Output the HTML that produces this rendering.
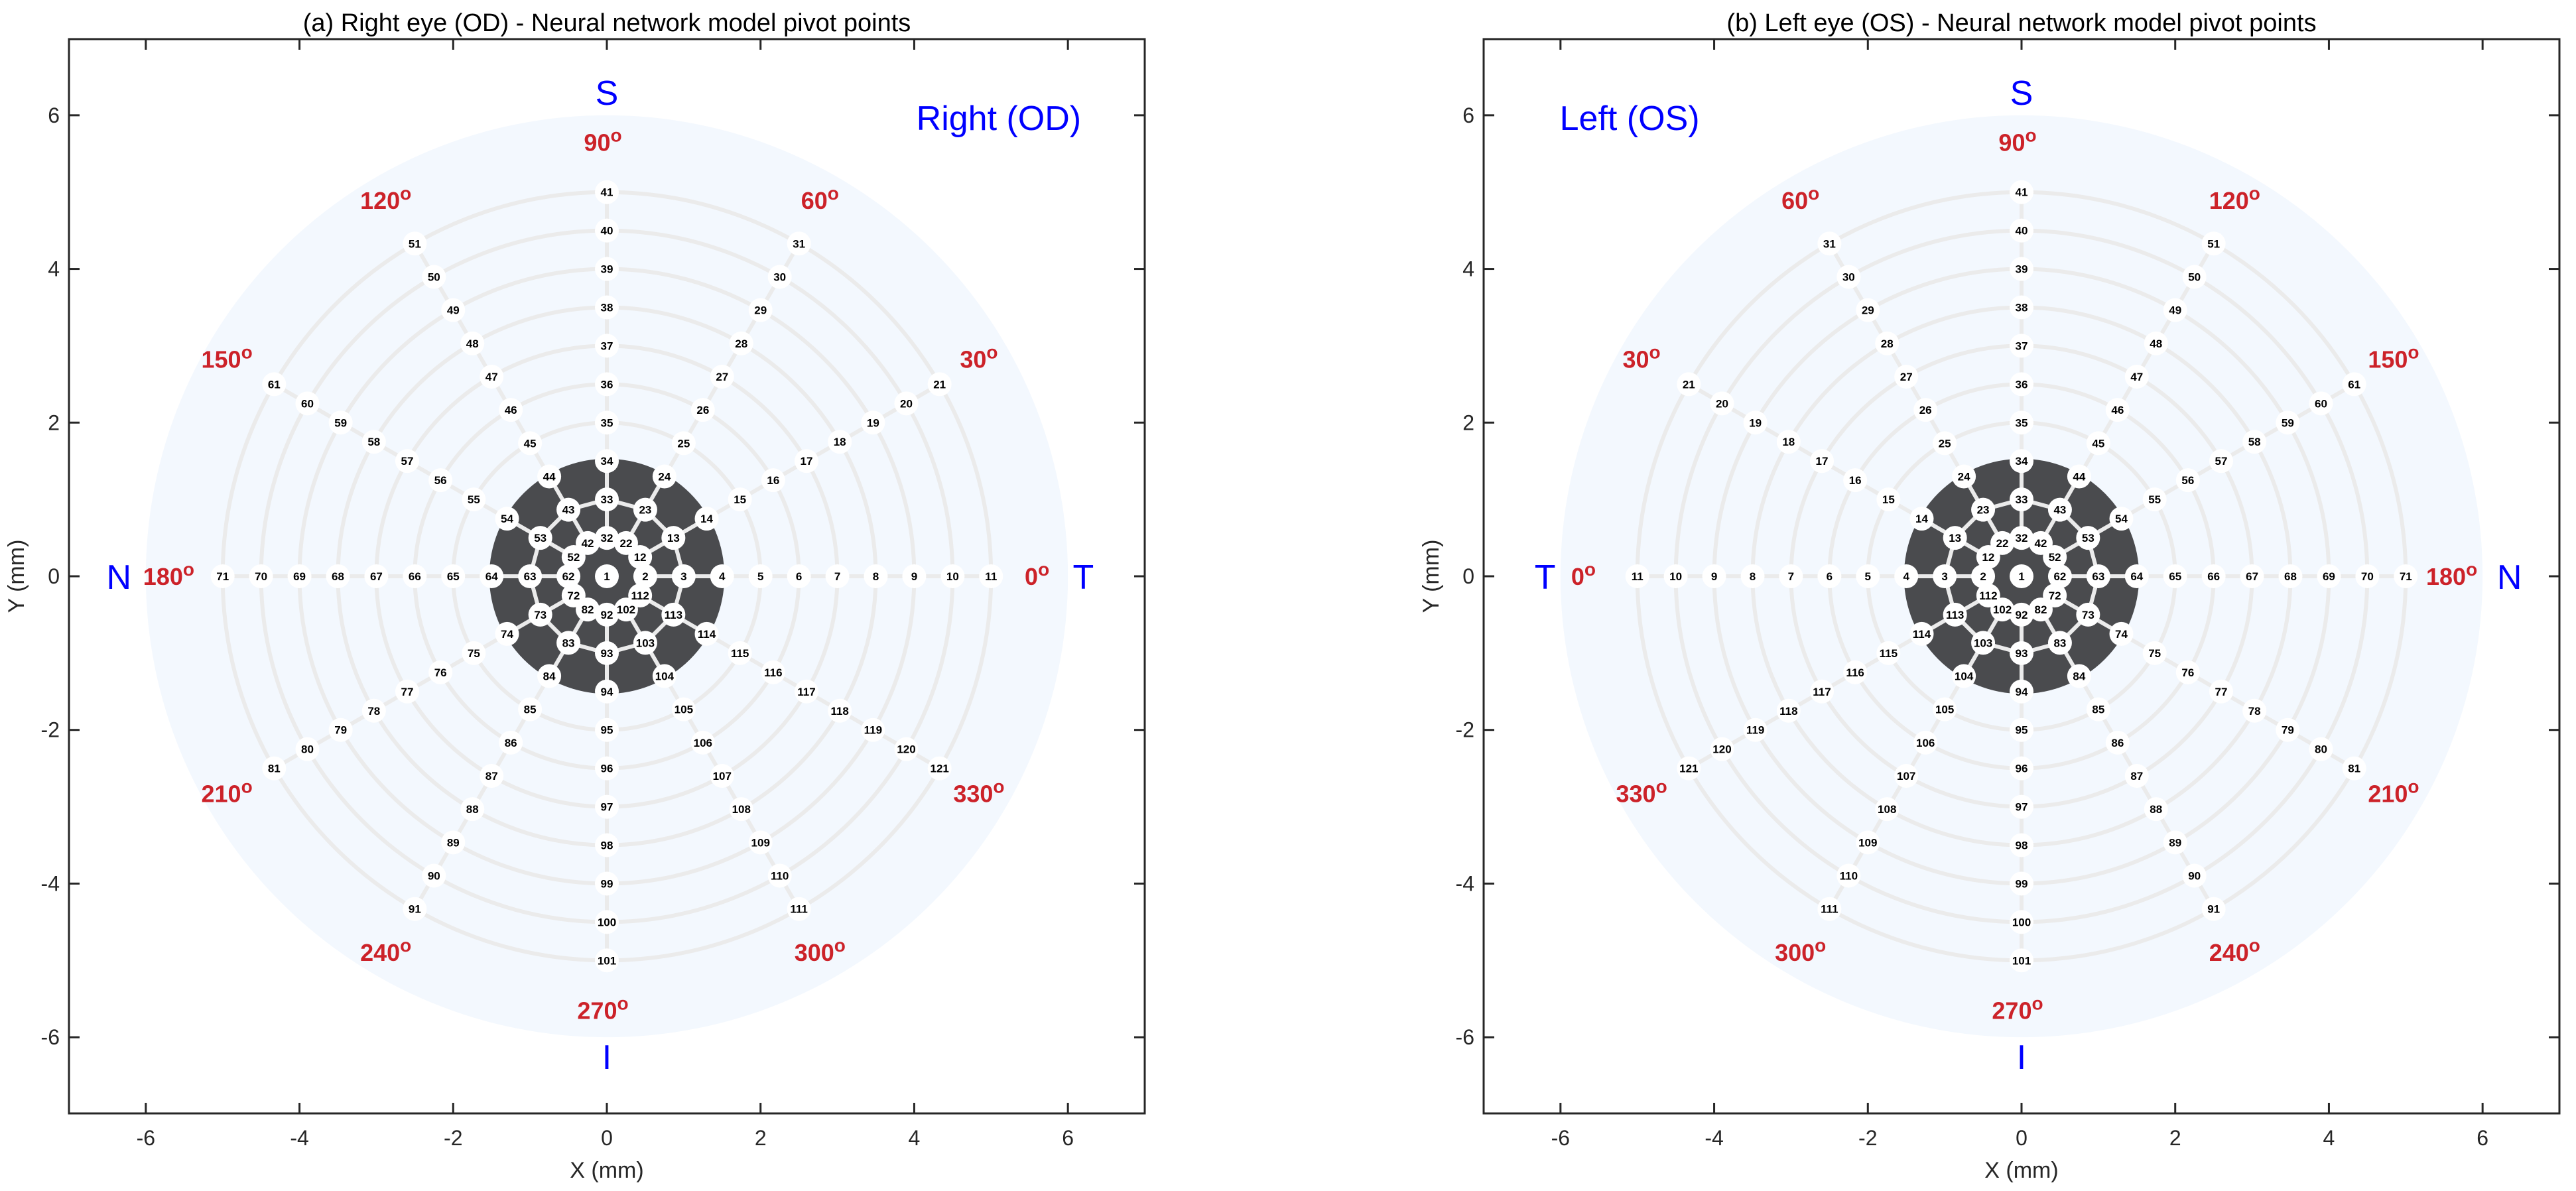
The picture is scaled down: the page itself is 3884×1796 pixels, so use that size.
<!DOCTYPE html>
<html><head><meta charset="utf-8"><style>
html,body{margin:0;padding:0;background:#fff;}
svg{display:block;font-family:"Liberation Sans",Arial,sans-serif;}
</style></head><body>
<svg id="fig" width="3884" height="1796" viewBox="0 0 3884 1796" xmlns="http://www.w3.org/2000/svg"></svg>
<script>
// ---- data ----
const rayAnglesDeg = [0,30,60,90,120,150,180,210,240,270,300,330];
const ringRadii = [0.5,1.0,1.5,2.0,2.5,3.0,3.5,4.0,4.5,5.0];
const axisTicks = [-6,-4,-2,0,2,4,6];
const panelTitles = ["(a) Right eye (OD) - Neural network model pivot points","(b) Left eye (OS) - Neural network model pivot points"];
const eyeLabels = ["Right (OD)","Left (OS)"];
const mirror = [1,-1];
const panelLeft = [104,2237];
const fovealRadius = 1.53;
const fieldRadius = 6;
const angleLabelRadius = 5.65;

const S = 115.86, TOP = 59, BOT = 1679, W = 1622;
const NS = "http://www.w3.org/2000/svg";
const svg = document.getElementById('fig');
function el(tag, attrs, parent, text){
  const e = document.createElementNS(NS, tag);
  for (const k in attrs) e.setAttribute(k, attrs[k]);
  if (text !== undefined) e.textContent = text;
  (parent||svg).appendChild(e);
  return e;
}

panelLeft.forEach((L, p) => {
  const m = mirror[p];
  const cx = L + W/2, cy = (TOP+BOT)/2;
  const X = v => cx + v*S*m;
  const Xa = v => cx + v*S;
  const Y = v => cy - v*S;
  const g = el('g', {});
  
  

  const t = el('text', {x: cx, y: 47, 'text-anchor':'middle', 'font-size':38, fill:'#000'}, g, panelTitles[p]);
  
  

  const disk = el('circle', {cx: cx, cy: cy, r: fieldRadius*S, fill:'#f3f8fe'}, g);
  
  

  ringRadii.forEach(r => {
    if (r < 1.5) return;
    const c = el('circle', {cx: cx, cy: cy, r: r*S, fill:'none', stroke:'#ebebeb', 'stroke-width':6}, g);
    
    
  });
  const fov = el('circle', {cx: cx, cy: cy, r: fovealRadius*S, fill:'#4a4b4e'}, g);
  
  

  rayAnglesDeg.forEach(a => {
    const rad = a*Math.PI/180, rmax = ringRadii[ringRadii.length-1], rmin = ringRadii[0];
    const ln = el('line', {x1: X(rmin*Math.cos(rad)), y1: Y(rmin*Math.sin(rad)), x2: X(rmax*Math.cos(rad)), y2: Y(rmax*Math.sin(rad)), stroke:'#ebebeb', 'stroke-width':6}, g);
    
    
  });
  [0.5,1.0].forEach(r => {
    const pts = rayAnglesDeg.map(a => { const rad=a*Math.PI/180; return X(r*Math.cos(rad))+','+Y(r*Math.sin(rad)); }).join(' ');
    const pg = el('polygon', {points: pts, fill:'none', stroke:'#ebebeb', 'stroke-width':6}, g);
    
    
  });

  function node(id, xv, yv){
    const n = el('g', {}, g);
    
    
    el('circle', {cx: X(xv), cy: Y(yv), r: 18, fill:'#fff'}, n);
    el('text', {x: X(xv), y: Y(yv)+6, 'text-anchor':'middle', 'font-size':17, 'font-weight':'bold', fill:'#000'}, n, String(id));
  }
  node(1, 0, 0);
  rayAnglesDeg.forEach((a, i) => {
    const rad = a*Math.PI/180;
    ringRadii.forEach((r, j) => node(2 + i*10 + j, r*Math.cos(rad), r*Math.sin(rad)));
  });

  rayAnglesDeg.forEach(a => {
    const rad = a*Math.PI/180;
    const tx = el('text', {x: X(angleLabelRadius*Math.cos(rad))-6, y: Y(angleLabelRadius*Math.sin(rad))+13, 'text-anchor':'middle', 'font-size':36, 'font-weight':'bold', fill:'#cc2229'}, g);
    
    
    const t1 = document.createElementNS(NS,'tspan'); t1.textContent = String(a); tx.appendChild(t1);
    const t2 = document.createElementNS(NS,'tspan'); t2.setAttribute('dy','-14'); t2.setAttribute('font-size','28'); t2.textContent = 'o'; tx.appendChild(t2);
  });

  const dirs = [['S',0,6.3],['I',0,-6.25],['T',6.2,0],['N',-6.35,0]];
  dirs.forEach(d => {
    const tx = el('text', {x: X(d[1]), y: Y(d[2])+19, 'text-anchor':'middle', 'font-size':52, fill:'#0000ff'}, g, d[0]);
    
    
  });
  const el2 = el('text', {x: p===0 ? Xa(5.1) : Xa(-5.1), y: 196, 'text-anchor':'middle', 'font-size':52, fill:'#0000ff'}, g, eyeLabels[p]);
  
  

  const box = el('rect', {x: L, y: TOP, width: W, height: BOT-TOP, fill:'none', stroke:'#262626', 'stroke-width':3}, g);
  
  
  axisTicks.forEach(v => {
    el('line', {x1: Xa(v), y1: BOT, x2: Xa(v), y2: BOT-16, stroke:'#262626','stroke-width':3}, g);
    el('line', {x1: Xa(v), y1: TOP, x2: Xa(v), y2: TOP+16, stroke:'#262626','stroke-width':3}, g);
    el('line', {x1: L, y1: Y(v), x2: L+16, y2: Y(v), stroke:'#262626','stroke-width':3}, g);
    el('line', {x1: L+W, y1: Y(v), x2: L+W-16, y2: Y(v), stroke:'#262626','stroke-width':3}, g);
    const xl = el('text', {x: Xa(v), y: 1727, 'text-anchor':'middle', 'font-size':32, fill:'#262626'}, g, String(v));
    
    
    const yl = el('text', {x: L-14, y: Y(v)+11, 'text-anchor':'end', 'font-size':32, fill:'#262626'}, g, String(v));
    
    
  });
  const xt = el('text', {x: cx, y: 1776, 'text-anchor':'middle', 'font-size':34, fill:'#262626'}, g, 'X (mm)');
  
  
  const yt = el('text', {x: L-68, y: cy, 'text-anchor':'middle', 'font-size':34, fill:'#262626', transform:'rotate(-90 '+(L-68)+' '+cy+')'}, g, 'Y (mm)');
  
  
});
</script>
</body></html>
